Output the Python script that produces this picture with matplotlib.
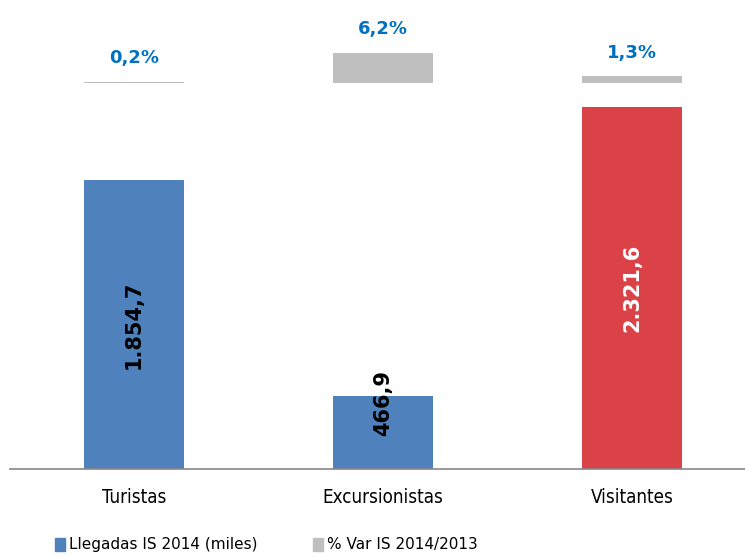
import matplotlib.pyplot as plt
from matplotlib.patches import Patch

categories = ["Turistas", "Excursionistas", "Visitantes"]
llegadas = [1854.7, 466.9, 2321.6]
var_pct = [0.2, 6.2, 1.3]
llegadas_labels = ["1.854,7", "466,9", "2.321,6"]
var_labels = ["0,2%", "6,2%", "1,3%"]

BLUE = "#4F81BD"
RED = "#DB4247"
GRAY = "#BFBFBF"
LABEL_BLUE = "#0070C0"
bar_colors = [BLUE, BLUE, RED]
text_colors = ["black", "black", "white"]

fig = plt.figure(figsize=(7.45, 5.57), dpi=100)
ax = fig.add_axes([9.5 / 745, 1 - 469 / 557, 747 / 745, 449 / 557])
ax2 = ax.twinx()

x = list(range(len(categories)))
ax.bar(x, llegadas, width=0.4, color=bar_colors, zorder=2)
ax2.bar(x, var_pct, width=0.4, color=GRAY, zorder=2)

ax.set_xlim(-0.5, len(categories) - 0.5)
ax.set_ylim(0, 2882)
ax2.set_ylim(-79.6, 12.9)

for xi, val, lab, col in zip(x, llegadas, llegadas_labels, text_colors):
    if val < 1000:
        # short bar: Excel pushes the label up near the top
        ax.annotate(lab, (xi, val), xytext=(0, -5), textcoords="offset points",
                    rotation=90, ha="center", va="center", color=col,
                    fontsize=15, fontweight="bold", zorder=3)
    else:
        ax.text(xi, val / 2, lab, rotation=90, ha="center", va="center",
                color=col, fontsize=15, fontweight="bold", zorder=3)

for xi, val, lab in zip(x, var_pct, var_labels):
    ax2.annotate(lab, (xi, val), xytext=(0, 17), textcoords="offset points",
                 ha="center", va="center", color=LABEL_BLUE,
                 fontsize=13, fontweight="bold")

ax.set_xticks(x)
ax.set_xticklabels(categories, fontsize=13.5, fontstretch="condensed")
ax.tick_params(axis="x", length=0, pad=14)
ax.tick_params(axis="y", left=False, labelleft=False)
ax2.tick_params(axis="y", right=False, labelright=False)

for side in ["top", "left", "right"]:
    ax.spines[side].set_visible(False)
    ax2.spines[side].set_visible(False)
ax2.spines["bottom"].set_visible(False)
ax.spines["bottom"].set_color("#868686")
ax.spines["bottom"].set_linewidth(1.2)

handles = [Patch(color=BLUE), Patch(color=GRAY)]
fig.legend(handles, ["Llegadas IS 2014 (miles)", "% Var IS 2014/2013"],
           loc="center left", bbox_to_anchor=(41 / 745, 1 - 545 / 557),
           ncol=2, frameon=False, fontsize=11, handlelength=0.7,
           handleheight=0.9, handletextpad=0.25, columnspacing=3.6)

fig.savefig("out.png", dpi=100)
